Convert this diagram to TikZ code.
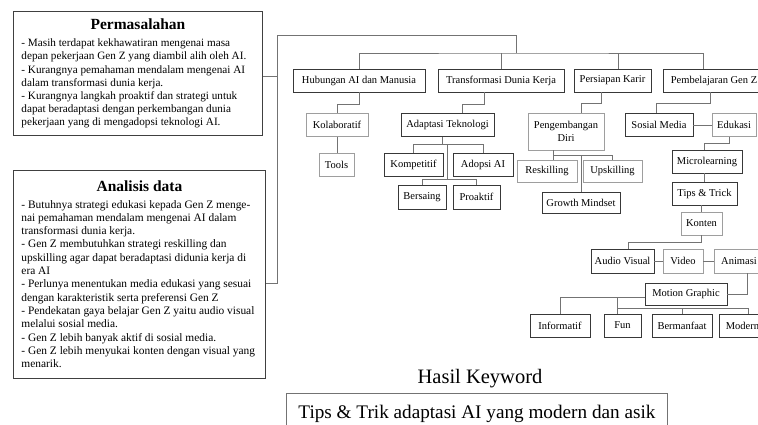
\documentclass[tikz,border=0pt]{standalone}
\usepackage{fontspec}
\setmainfont{Liberation Serif}
\usepackage{tikz}
\usetikzlibrary{calc,positioning}

\begin{document}
\begin{tikzpicture}[x=1pt,y=-1pt,
  kotak/.style={draw=black!78,line width=0.9pt,inner sep=0pt,minimum height=23pt,font=\fontsize{10.5}{12.6}\selectfont},
  kotakabu/.style={kotak,draw=black!38},
  garis/.style={draw=black!55,line width=0.9pt},
  teksbox/.style={draw=black!75,line width=0.9pt,anchor=north west,inner xsep=8pt,inner ysep=0pt,align=left}]
%Koordinaten in Pixeln vom Bild, y zeigt nach unten
  \pgfmathsetmacro{\ebeneA}{80.5}
  \pgfmathsetmacro{\ebeneB}{125}
  \pgfmathsetmacro{\ebeneC}{164.5}
\useasboundingbox (0,0) rectangle (758,425);
\clip (0,0) rectangle (758,425);
%linke Kaesten
\node[teksbox,minimum width=249,minimum height=124,font=\fontsize{11.2}{13.2}\selectfont] (perm) at (13,11) {%
  {\fontsize{15.5}{18}\selectfont\bfseries\makebox[233pt]{Permasalahan}}\\[4pt]
  - Masih terdapat kekhawatiran mengenai masa\\
  depan pekerjaan Gen Z yang diambil alih oleh AI.\\
  - Kurangnya pemahaman mendalam mengenai AI\\
  dalam transformasi dunia kerja.\\
  - Kurangnya langkah proaktif dan strategi untuk\\
  dapat beradaptasi dengan perkembangan dunia\\
  pekerjaan yang di mengadopsi teknologi AI.};
\node[teksbox,minimum width=252,minimum height=208,font=\fontsize{11.4}{13.3}\selectfont] (anal) at (13,170) {%
  {\fontsize{15.5}{18}\selectfont\bfseries\makebox[236pt]{Analisis data}}\\[3pt]
  - Butuhnya strategi edukasi kepada Gen Z menge-\\
  nai pemahaman mendalam mengenai AI dalam\\
  transformasi dunia kerja.\\
  - Gen Z membutuhkan strategi reskilling dan\\
  upskilling agar dapat beradaptasi didunia kerja di\\
  era AI\\
  - Perlunya menentukan media edukasi yang sesuai\\
  dengan karakteristik serta preferensi Gen Z\\
  - Pendekatan gaya belajar Gen Z yaitu audio visual\\
  melalui sosial media.\\
  - Gen Z lebih banyak aktif di sosial media.\\
  - Gen Z lebih menyukai konten dengan visual yang\\
  menarik.};
%erste Ebene
\node[kotak,minimum width=132] (hub) at (359,\ebeneA) {Hubungan AI dan Manusia};
\node[kotak,minimum width=126] (trans) at (501,\ebeneA) {Transformasi Dunia Kerja};
\node[kotak,minimum width=77] (karir) at (612.5,\ebeneA) {Persiapan Karir};
\node[kotak,minimum width=102] (belajar) at (714,\ebeneA) {Pembelajaran Gen Z};
%zweite Ebene und darunter
\node[kotakabu,minimum width=62] (kol) at (337,\ebeneB) {Kolaboratif};
\node[kotakabu,minimum width=35] (tools) at (336.5,\ebeneC) {Tools};
\node[kotak,minimum width=93] (adapt) at (447.5,\ebeneB) {Adaptasi Teknologi};
\node[kotak,minimum width=59] (komp) at (413.5,\ebeneC) {Kompetitif};
\node[kotak,minimum width=60] (adopsi) at (483,\ebeneC) {Adopsi AI};
\node[kotak,minimum width=48,minimum height=24] (bersaing) at (422,197) {Bersaing};
\node[kotak,minimum width=47,minimum height=24] (proaktif) at (476.5,197) {Proaktif};
\node[kotakabu,minimum width=76,minimum height=37,align=center] (diri) at (566,131.5) {Pengembangan\\Diri};
\node[kotakabu,minimum width=60,minimum height=22] (reskill) at (547,171) {Reskilling};
\node[kotakabu,minimum width=59,minimum height=22] (upskill) at (612.5,171) {Upskilling};
\node[kotak,minimum width=78,minimum height=21] (growth) at (581,203) {Growth Mindset};
\node[kotak,minimum width=68] (sosmed) at (659,\ebeneB) {Sosial Media};
\node[kotakabu,minimum width=44] (edukasi) at (734,\ebeneB) {Edukasi};
\node[kotak,minimum width=70] (micro) at (707,161.5) {Microlearning};
\node[kotak,minimum width=65] (tips) at (704.5,193.5) {Tips \& Trick};
\node[kotakabu,minimum width=41] (konten) at (701.5,223.5) {Konten};
\node[kotak,minimum width=63,minimum height=24] (audio) at (622.5,261) {Audio Visual};
\node[kotakabu,minimum width=40,minimum height=24] (video) at (683,261) {Video};
\node[kotakabu,minimum width=50,minimum height=24] (animasi) at (739,261) {Animasi};
\node[kotak,minimum width=82,minimum height=22] (motion) at (686,294) {Motion Graphic};
\node[kotak,minimum width=60] (informatif) at (560,325.5) {Informatif};
\node[kotak,minimum width=37] (fun) at (622.5,325.5) {Fun};
\node[kotak,minimum width=60] (bermanfaat) at (682,325.5) {Bermanfaat};
\node[kotak,minimum width=47] (modern) at (742.5,325.5) {Modern};
%Klammer links und Verteilung oben
\coordinate (kiri) at (277,35);
\coordinate (cabang) at (516,53);
\draw[garis] ([yshift=-3pt]perm.east) -| (kiri) -| (cabang);
\draw[garis] ([yshift=-9pt]anal.east) -| (kiri);
\draw[garis] (hub.north) |- (cabang) -| ([xshift=-11pt]belajar.north);
\draw[garis] (trans.north) -- (trans.north |- cabang);
\draw[garis] ([xshift=5.5pt]karir.north) -- ++(0,-16);
%Verbindungen
\draw[garis] (hub.south) -- ++(0,12) -| (kol.north);
\draw[garis] (kol.south) -- (kol.south |- tools.north);
\draw[garis] ([xshift=-17pt]trans.south) -- ++(0,12) -| ([xshift=14.5pt]adapt.north);
\draw[garis] ([xshift=-5.5pt]adapt.south) -- ++(0,8) coordinate (t1);
\draw[garis] (komp.north) |- (t1) -| (adopsi.north);
\draw[garis] (t1 -| adapt.south) -- ++(0,35) coordinate (t2);
\draw[garis] (bersaing.north) |- (t2) -| (proaktif.north);
\draw[garis] ([xshift=-11.5pt]karir.south) -- ++(0,11) -| ([xshift=15pt]diri.north);
\draw[garis] ([xshift=-13pt]diri.south) -- ++(0,5) coordinate (d1) -| (upskill.north);
\draw[garis] (d1) -- (d1 |- reskill.north);
\draw[garis] (d1 -| growth.north) -- (growth.north);
\draw[garis] ([xshift=-4pt]belajar.south) -- ++(0,11) -| ([xshift=-3pt]sosmed.north);
\draw[garis] (sosmed.east) -- (edukasi.west);
\draw[garis] ([xshift=-5pt]edukasi.south) -- ++(0,7) -| ([xshift=-3pt]micro.north);
\draw[garis] ([xshift=-3pt]micro.south) -- ([xshift=-3pt]micro.south |- tips.north);
\draw[garis] (tips.south -| konten.north) -- (konten.north);
\draw[garis] (konten.south) -- ++(0,7) -| ([xshift=5.5pt]audio.north);
\draw[garis] (audio.east) -- (video.west);
\draw[garis] (video.east) -- (animasi.west);
\draw[garis] ([xshift=8pt]animasi.south) |- (motion.east);
\coordinate (m1) at ([yshift=-3pt]motion.west);
\draw[garis] (m1) -| (informatif.north);
\draw[garis] ([xshift=-5.5pt]fun.north) |- (m1);
\draw[garis] ([xshift=-5.5pt]fun.north) ++(0,-5) coordinate (m2) -| ([xshift=5.5pt]modern.north);
\draw[garis] (m2 -| bermanfaat.north) -- (bermanfaat.north);
%Ergebnis unten
\node[font=\fontsize{20.5}{24}\selectfont] (judul) at (480,379) {Hasil Keyword};
\node[draw=black!55,line width=0.9pt,anchor=north west,minimum width=381,minimum height=40,inner sep=0pt,font=\fontsize{19.2}{23}\selectfont] (hasil) at (286,393) {Tips \& Trik adaptasi AI yang modern dan asik};
\end{tikzpicture}
\end{document}
